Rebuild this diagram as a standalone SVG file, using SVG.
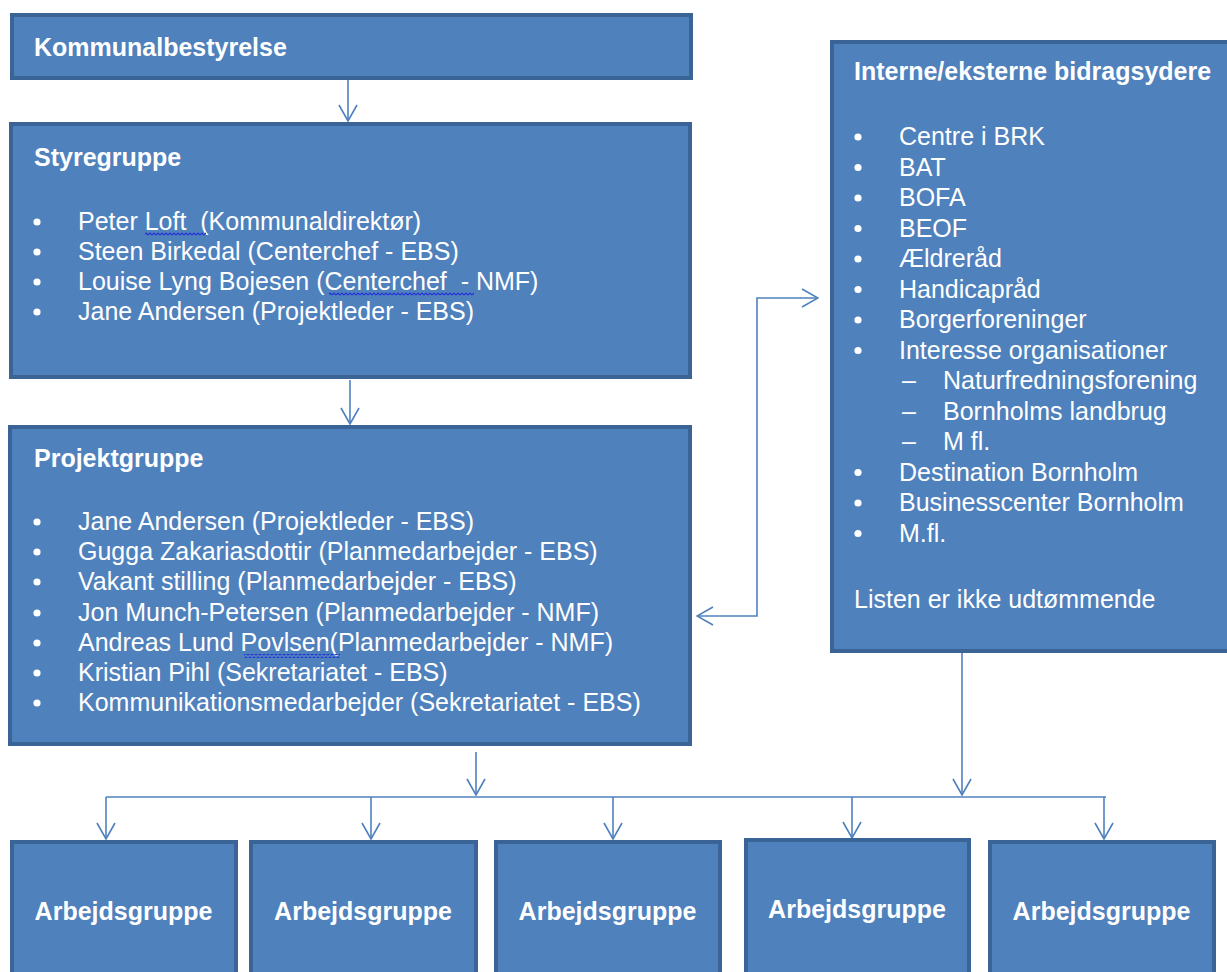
<svg xmlns="http://www.w3.org/2000/svg" width="1227" height="972" viewBox="0 0 1227 972">
<style>
.box{fill:#4f81bd;stroke:#3b6496;stroke-width:4}
.t{font-family:"Liberation Sans",Arial,sans-serif;font-size:25px;fill:#ffffff;white-space:pre}
.b{font-weight:bold}
.conn{fill:none;stroke:#4f81bd;stroke-width:1.6}
.dot{fill:#ffffff}
.sq{fill:url(#squig)}
</style>
<defs>
<marker id="arr" viewBox="0 0 18 20" refX="17" refY="10" markerWidth="18" markerHeight="20" markerUnits="userSpaceOnUse" orient="auto-start-reverse">
<path d="M1,1 L17,10 L1,19" fill="none" stroke="#4f81bd" stroke-width="1.6"/>
</marker>
<pattern id="squig" width="4" height="4" patternUnits="userSpaceOnUse">
<path d="M0,3 L2,1 L4,3" fill="none" stroke="#2530d8" stroke-width="1.2"/>
</pattern>
</defs>
<rect width="1227" height="972" fill="#ffffff"/>

<g id="connectors">
<path class="conn" d="M348,80 V121" marker-end="url(#arr)"/>
<path class="conn" d="M350,380 V424" marker-end="url(#arr)"/>
<path class="conn" d="M818,298 H757 V616 H697" marker-start="url(#arr)" marker-end="url(#arr)"/>
<path class="conn" d="M476,752 V795" marker-end="url(#arr)"/>
<path class="conn" d="M962,653 V795" marker-end="url(#arr)"/>
<path class="conn" d="M106,797 H1106"/>
<path class="conn" d="M106,797 V839" marker-end="url(#arr)"/>
<path class="conn" d="M371,797 V839" marker-end="url(#arr)"/>
<path class="conn" d="M613,797 V839" marker-end="url(#arr)"/>
<path class="conn" d="M852,797 V838" marker-end="url(#arr)"/>
<path class="conn" d="M1104,797 V839" marker-end="url(#arr)"/>
</g>

<g id="kommunalbestyrelse">
<rect class="box" x="12" y="15" width="679" height="63"/>
<text class="t b" x="34" y="56">Kommunalbestyrelse</text>
</g>

<g id="styregruppe">
<rect class="box" x="11" y="124" width="679" height="253"/>
<text class="t b" x="34" y="166">Styregruppe</text>
<circle class="dot" cx="37" cy="222" r="3.6"/>
<circle class="dot" cx="37" cy="252" r="3.6"/>
<circle class="dot" cx="37" cy="282" r="3.6"/>
<circle class="dot" cx="37" cy="312" r="3.6"/>
<text class="t" x="78" y="230" xml:space="preserve">Peter Loft  (Kommunaldirektør)</text>
<text class="t" x="78" y="260">Steen Birkedal (Centerchef - EBS)</text>
<text class="t" x="78" y="290" xml:space="preserve">Louise Lyng Bojesen (Centerchef  - NMF)</text>
<text class="t" x="78" y="320">Jane Andersen (Projektleder - EBS)</text>
<rect class="sq" x="145" y="232" width="61" height="4"/>
<rect class="sq" x="329" y="292" width="145" height="4"/>
</g>

<g id="projektgruppe">
<rect class="box" x="10" y="427" width="680" height="317"/>
<text class="t b" x="34" y="467">Projektgruppe</text>
<circle class="dot" cx="37" cy="522" r="3.6"/>
<circle class="dot" cx="37" cy="552" r="3.6"/>
<circle class="dot" cx="37" cy="582" r="3.6"/>
<circle class="dot" cx="37" cy="613" r="3.6"/>
<circle class="dot" cx="37" cy="643" r="3.6"/>
<circle class="dot" cx="37" cy="673" r="3.6"/>
<circle class="dot" cx="37" cy="703" r="3.6"/>
<text class="t" x="78" y="530">Jane Andersen (Projektleder - EBS)</text>
<text class="t" x="78" y="560">Gugga Zakariasdottir (Planmedarbejder - EBS)</text>
<text class="t" x="78" y="590">Vakant stilling (Planmedarbejder - EBS)</text>
<text class="t" x="78" y="621">Jon Munch-Petersen (Planmedarbejder - NMF)</text>
<text class="t" x="78" y="651">Andreas Lund Povlsen(Planmedarbejder - NMF)</text>
<text class="t" x="78" y="681">Kristian Pihl (Sekretariatet - EBS)</text>
<text class="t" x="78" y="711">Kommunikationsmedarbejder (Sekretariatet - EBS)</text>
<rect class="sq" x="244" y="654" width="96" height="4"/>
</g>

<g id="bidragsydere">
<rect class="box" x="832" y="42" width="410" height="609"/>
<text class="t b" x="854" y="80">Interne/eksterne bidragsydere</text>
<circle class="dot" cx="858" cy="137" r="3.6"/>
<circle class="dot" cx="858" cy="167.5" r="3.6"/>
<circle class="dot" cx="858" cy="198" r="3.6"/>
<circle class="dot" cx="858" cy="228.5" r="3.6"/>
<circle class="dot" cx="858" cy="259" r="3.6"/>
<circle class="dot" cx="858" cy="289.5" r="3.6"/>
<circle class="dot" cx="858" cy="320" r="3.6"/>
<circle class="dot" cx="858" cy="350.5" r="3.6"/>
<circle class="dot" cx="858" cy="472.5" r="3.6"/>
<circle class="dot" cx="858" cy="503" r="3.6"/>
<circle class="dot" cx="858" cy="533.5" r="3.6"/>
<text class="t" x="899" y="145">Centre i BRK</text>
<text class="t" x="899" y="175.5">BAT</text>
<text class="t" x="899" y="206">BOFA</text>
<text class="t" x="899" y="236.5">BEOF</text>
<text class="t" x="899" y="267">Ældreråd</text>
<text class="t" x="899" y="297.5">Handicapråd</text>
<text class="t" x="899" y="328">Borgerforeninger</text>
<text class="t" x="899" y="358.5">Interesse organisationer</text>
<text class="t" x="902" y="389">–</text>
<text class="t" x="902" y="419.5">–</text>
<text class="t" x="902" y="450">–</text>
<text class="t" x="943" y="389">Naturfredningsforening</text>
<text class="t" x="943" y="419.5">Bornholms landbrug</text>
<text class="t" x="943" y="450">M fl.</text>
<text class="t" x="899" y="480.5">Destination Bornholm</text>
<text class="t" x="899" y="511">Businesscenter Bornholm</text>
<text class="t" x="899" y="541.5">M.fl.</text>
<text class="t" x="854" y="608">Listen er ikke udtømmende</text>
</g>

<g id="arbejdsgruppe1">
<rect class="box" x="12" y="842" width="224" height="150"/>
<text class="t b" x="123.5" y="920" text-anchor="middle">Arbejdsgruppe</text>
</g>
<g id="arbejdsgruppe2">
<rect class="box" x="251" y="842" width="225" height="150"/>
<text class="t b" x="363" y="920" text-anchor="middle">Arbejdsgruppe</text>
</g>
<g id="arbejdsgruppe3">
<rect class="box" x="496" y="842" width="224" height="150"/>
<text class="t b" x="607.5" y="920" text-anchor="middle">Arbejdsgruppe</text>
</g>
<g id="arbejdsgruppe4">
<rect class="box" x="746" y="840" width="223" height="150"/>
<text class="t b" x="857" y="918" text-anchor="middle">Arbejdsgruppe</text>
</g>
<g id="arbejdsgruppe5">
<rect class="box" x="990" y="842" width="224" height="150"/>
<text class="t b" x="1101.5" y="920" text-anchor="middle">Arbejdsgruppe</text>
</g>
</svg>
